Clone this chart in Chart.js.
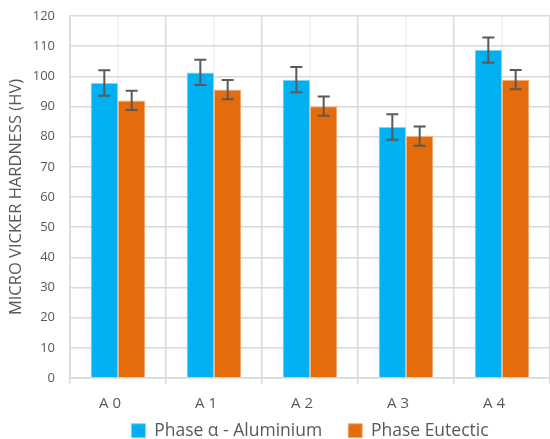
<!DOCTYPE html>
<html>
<head>
<meta charset="utf-8">
<script src="https://cdn.jsdelivr.net/npm/chart.js@4"></script>
<style>
html, body { margin: 0; padding: 0; background: #fff; }
</style>
</head>
<body>
<canvas id="hardnessChart" width="550" height="439"></canvas>
<script>
const categories = ['A 0', 'A 1', 'A 2', 'A 3', 'A 4'];
const alphaValues = [97.8, 101.3, 98.9, 83.2, 108.7];
const alphaErrors = [4.2, 4.2, 4.2, 4.2, 4.2];
const eutecticValues = [92.0, 95.6, 90.1, 80.2, 98.9];
const eutecticErrors = [3.2, 3.2, 3.2, 3.2, 3.2];
const yMin = 0;
const yMax = 120;
const yStep = 10;

const FONT = "'Open Sans', 'Noto Sans', sans-serif";
const TEXT = '#595959';
const LEGEND_PAD = 26;

// draws the error bars from each dataset's errors array
const errorBars = {
    id: 'errorBars',
    afterDatasetsDraw(chart) {
        const ctx = chart.ctx;
        const y = chart.scales.y;
        chart.data.datasets.forEach((ds, i) => {
            const meta = chart.getDatasetMeta(i);
            meta.data.forEach((bar, j) => {
                const v = ds.data[j];
                const e = ds.errors[j];
                const top = y.getPixelForValue(v + e);
                const bottom = y.getPixelForValue(v - e);
                ctx.save();
                ctx.strokeStyle = '#595959';
                ctx.lineWidth = 2;
                ctx.beginPath();
                ctx.moveTo(bar.x, top);
                ctx.lineTo(bar.x, bottom);
                ctx.moveTo(bar.x - 6, top);
                ctx.lineTo(bar.x + 6, top);
                ctx.moveTo(bar.x - 6, bottom);
                ctx.lineTo(bar.x + 6, bottom);
                ctx.stroke();
                ctx.restore();
            });
        });
    }
};

// centre the legend under the plot area and pull it up so its wide padding
// only spaces the items apart
const legendShift = {
    id: 'legendShift',
    afterLayout(chart) {
        const lg = chart.legend;
        if (!lg) return;
        lg.left = chart.chartArea.left - 14;
        lg.right = chart.chartArea.right + 14;
        lg.top = chart.height - 8 - LEGEND_PAD - 9;
        lg.bottom = chart.height;
    }
};

const ctx = document.getElementById('hardnessChart').getContext('2d');
new Chart(ctx, {
    type: 'bar',
    data: {
        labels: categories,
        datasets: [{
            label: 'Phase \u03b1 - Aluminium',
            data: alphaValues,
            errors: alphaErrors,
            backgroundColor: '#00B0F0',
            borderColor: '#7fd6f6',
            borderWidth: 1,
            categoryPercentage: 0.57,
            barPercentage: 1
        }, {
            label: 'Phase Eutectic',
            data: eutecticValues,
            errors: eutecticErrors,
            backgroundColor: '#E46C0A',
            borderColor: '#f2b07e',
            borderWidth: 1,
            categoryPercentage: 0.57,
            barPercentage: 1
        }]
    },
    options: {
        responsive: false,
        animation: false,
        layout: {
            padding: { top: 0, right: 0, left: 0, bottom: 0 }
        },
        plugins: {
            tooltip: { enabled: false },
            legend: {
                position: 'bottom',
                maxHeight: 30,
                labels: {
                    color: TEXT,
                    font: { family: FONT, size: 17.5 },
                    boxWidth: 14,
                    boxHeight: 14,
                    padding: LEGEND_PAD
                }
            }
        },
        scales: {
            x: {
                grid: {
                    color: '#d9d9d9',
                    lineWidth: 1.5,
                    tickLength: 6
                },
                border: { color: '#d9d9d9', width: 1.5 },
                ticks: {
                    color: TEXT,
                    font: { family: FONT, size: 15 },
                    padding: 11,
                    labelOffset: -8
                },
                afterFit(scale) { scale.height = 31; }
            },
            xMid: {
                type: 'category',
                position: 'bottom',
                offset: true,
                grid: {
                    offset: false,
                    color: '#f0f0f0',
                    lineWidth: 1.5,
                    drawTicks: false
                },
                border: { display: false },
                ticks: { display: false },
                afterFit(scale) { scale.height = 0; }
            },
            y: {
                min: yMin,
                max: yMax,
                ticks: {
                    stepSize: yStep,
                    color: TEXT,
                    font: { family: FONT, size: 13 },
                    padding: 15
                },
                grid: {
                    color: '#d9d9d9',
                    lineWidth: 1.5,
                    drawTicks: false
                },
                border: { color: '#d9d9d9', width: 1.5 },
                title: {
                    display: true,
                    text: 'MICRO VICKER HARDNESS (HV)',
                    color: TEXT,
                    font: { family: FONT, size: 16.5 },
                    padding: { top: 6, bottom: 0 }
                },
                afterFit(scale) {
                    scale.width = 70;
                    scale.paddingTop = 16;
                }
            }
        }
    },
    plugins: [errorBars, legendShift]
});
</script>
</body>
</html>
